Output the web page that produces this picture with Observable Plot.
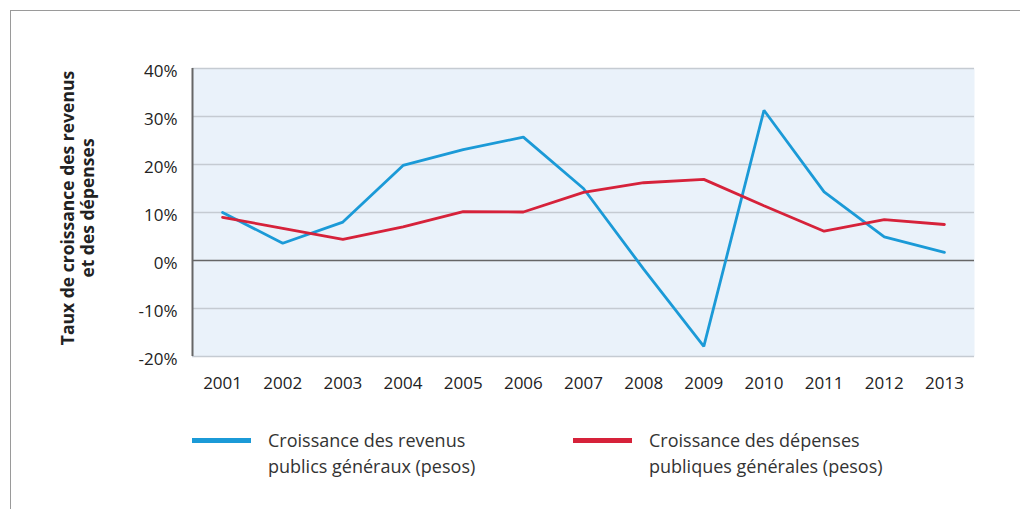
<!DOCTYPE html>
<html>
<head>
<meta charset="utf-8">
<script src="https://cdn.jsdelivr.net/npm/d3@7"></script>
<script src="https://cdn.jsdelivr.net/npm/@observablehq/plot@0.6"></script>
<style>
  html, body { margin: 0; padding: 0; background: #fff; }
  #wrap { position: relative; width: 1020px; height: 509px; overflow: hidden; background: #fff; font-family: "Open Sans", sans-serif; color: #222; }
  #frame { position: absolute; left: 10px; top: 10px; width: 1100px; height: 600px; border-top: 1.5px solid #9a9a9a; border-left: 1.5px solid #9a9a9a; }
  #chart { position: absolute; left: 0; top: 0; }
  #ytitle { position: absolute; left: -73px; top: 188px; width: 300px; height: 40px; line-height: 20px; text-align: center; font-weight: bold; font-size: 17.5px; color: #222; transform: rotate(-90deg); transform-origin: 150px 20px; white-space: nowrap; }
  .sw { position: absolute; height: 5px; width: 59px; }
  .lg { position: absolute; font-size: 18px; line-height: 26px; color: #333; white-space: nowrap; }
</style>
</head>
<body>
<div id="wrap">
  <div id="frame"></div>
  <div id="chart"></div>
  <div id="ytitle">Taux de croissance des revenus<br>et des dépenses</div>
  <div class="sw" id="sw1" style="left:192px; top:438px;"></div>
  <div class="lg" id="lg1" style="left:268px; top:427px;"></div>
  <div class="sw" id="sw2" style="left:573px; top:438px;"></div>
  <div class="lg" id="lg2" style="left:649px; top:427px;"></div>
</div>
<script>
const years = [2001, 2002, 2003, 2004, 2005, 2006, 2007, 2008, 2009, 2010, 2011, 2012, 2013];
const revenus = [10.0, 3.6, 8.0, 19.8, 23.1, 25.7, 15.0, -1.8, -17.9, 31.3, 14.3, 4.9, 1.7];
const depenses = [9.0, 6.7, 4.4, 7.0, 10.2, 10.1, 14.2, 16.2, 16.9, 11.4, 6.1, 8.5, 7.5];
const yTicks = [-20, -10, 0, 10, 20, 30, 40];
const seriesNames = ["Croissance des revenus\npublics généraux (pesos)", "Croissance des dépenses\npubliques générales (pesos)"];
const seriesColors = ["#1b9ad7", "#d6223a"];

const rows = [];
years.forEach((y, i) => {
  rows.push({year: y, value: revenus[i], s: seriesNames[0]});
  rows.push({year: y, value: depenses[i], s: seriesNames[1]});
});

const plot = Plot.plot({
  width: 1020,
  height: 400,
  marginLeft: 192,
  marginRight: 46,
  marginTop: 68,
  marginBottom: 44,
  style: {fontFamily: "Open Sans, sans-serif", fontSize: "17px", color: "#222", background: "transparent"},
  x: {domain: [years[0] - 0.5, years[years.length - 1] + 0.5]},
  y: {domain: [yTicks[0], yTicks[yTicks.length - 1]]},
  color: {domain: seriesNames, range: seriesColors},
  marks: [
    Plot.frame({fill: "#eaf2fa", stroke: null}),
    Plot.ruleY(yTicks.filter(d => d !== 0), {stroke: "#c5cbd2", strokeWidth: 1.5}),
    Plot.ruleY([0], {stroke: "#666", strokeWidth: 1.5}),
    Plot.ruleX([years[0] - 0.5], {stroke: "#666", strokeWidth: 2}),
    Plot.axisY({ticks: yTicks, tickSize: 0, tickPadding: 15, dy: 3, tickFormat: d => d + "%", label: null}),
    Plot.axisX({ticks: years, tickSize: 0, tickPadding: 20, tickFormat: d => String(d), label: null}),
    Plot.line(rows, {x: "year", y: "value", z: "s", stroke: "s", strokeWidth: 2.8, strokeLinejoin: "miter"})
  ]
});
document.getElementById("chart").appendChild(plot);

document.getElementById("sw1").style.background = seriesColors[0];
document.getElementById("sw2").style.background = seriesColors[1];
document.getElementById("lg1").innerHTML = seriesNames[0].replace("\n", "<br>");
document.getElementById("lg2").innerHTML = seriesNames[1].replace("\n", "<br>");
</script>
</body>
</html>
